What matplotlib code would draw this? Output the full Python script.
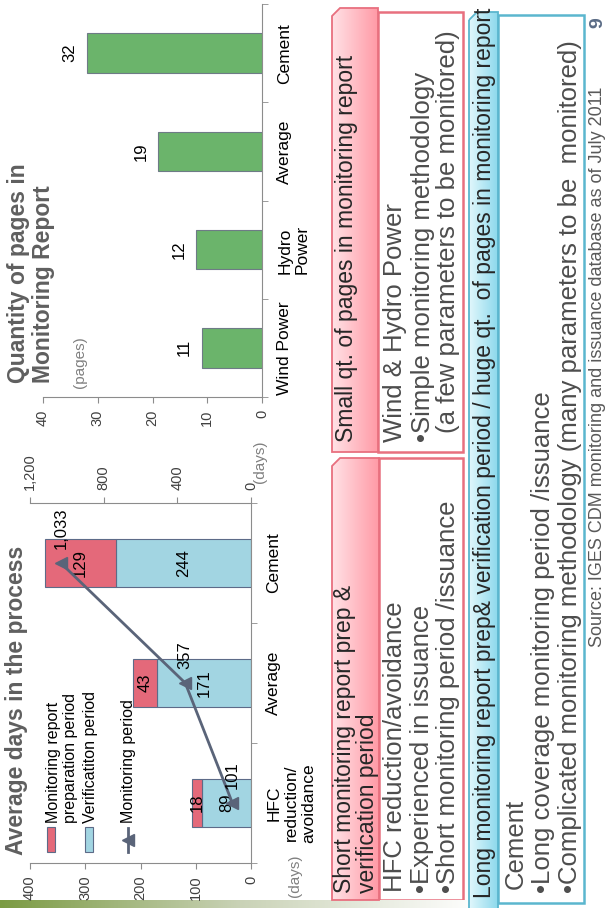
import numpy as np
import matplotlib
matplotlib.use('Agg')
import matplotlib.pyplot as plt
from matplotlib.patches import Polygon, Rectangle
from matplotlib.colors import LinearSegmentedColormap
from matplotlib.lines import Line2D

plt.rcParams['font.family'] = ['Liberation Sans', 'DejaVu Sans']

W, H = 607, 908

# average days in the process
day_cats = ['HFC\nreduction/\navoidance', 'Average', 'Cement']
verif_days = [89, 171, 244]
prep_days = [18, 43, 129]
monitor_days = [101, 357, 1033]
day_ticks = [0, 100, 200, 300, 400]
monitor_ticks = [0, 400, 800, 1200]
monitor_tick_labels = ['0', '400', '800', '1,200']

# quantity of pages in monitoring report
page_cats = ['Wind Power', 'Hydro\nPower', 'Average', 'Cement']
pages = [11, 12, 19, 32]
page_ticks = [0, 10, 20, 30, 40]

PINK = '#E4697A'
BLUE = '#A2D5E2'
GREEN = '#6BB46B'
LINE = '#5A6479'
EDGE = '#5D6B88'
AXIS = '#8C8C8C'
TITLE = '#5F5F5F'
TXT = '#404040'

fig = plt.figure(figsize=(W / 100, H / 100), dpi=100)
bg = fig.add_axes([0, 0, 1, 1])
bg.set_axis_off()


def px_axes(x0, y0, x1, y1):
    return fig.add_axes([x0 / W, 1 - y1 / H, (x1 - x0) / W, (y1 - y0) / H])


def style_axes(ax, n, ticks):
    for s in ('left', 'top'):
        ax.spines[s].set_visible(False)
    for s in ('right', 'bottom'):
        ax.spines[s].set_color(AXIS)
    ax.yaxis.tick_right()
    ax.set_ylim(-0.5, n - 0.5)
    ax.set_yticks(np.arange(n))
    ax.set_yticks(np.arange(n + 1) - 0.5, minor=True)
    ax.tick_params(axis='y', which='major', length=0, pad=11)
    ax.tick_params(axis='y', which='minor', length=4, color=AXIS)
    ax.set_xticks(ticks)
    ax.tick_params(axis='x', length=4, color=AXIS, pad=5, labelsize=10.5,
                   labelrotation=90, labelcolor=TXT)
    ax.patch.set_visible(False)


def rtext(x, y, s, size, color=TXT, weight='normal', ha='center', ls=1.2):
    bg.text(x, y, s, rotation=90, ha=ha, va='bottom', fontsize=size,
            color=color, fontweight=weight, multialignment='left',
            linespacing=ls)


# ---- chart 1: days, stacked bars + monitoring period line
ax1 = px_axes(30, 503, 251, 863)
pos1 = np.arange(len(day_cats))
b_ver = ax1.barh(pos1, verif_days, height=0.4, color=BLUE, edgecolor=EDGE, lw=0.8)
b_prep = ax1.barh(pos1, prep_days, left=verif_days, height=0.4, color=PINK,
                  edgecolor=EDGE, lw=0.8)
ax1.set_xlim(400, 0)
style_axes(ax1, len(day_cats), day_ticks)
ax1.set_yticklabels(day_cats, rotation=90, va='center', ha='left',
                    multialignment='center', fontsize=12.5, color='black')
ax1.bar_label(b_ver, label_type='center', rotation=90, fontsize=12)
ax1.bar_label(b_prep, label_type='center', rotation=90, fontsize=12)

ax1t = ax1.twiny()
ax1t.set_xlim(1200, 0)
for s in ('left', 'right', 'bottom'):
    ax1t.spines[s].set_visible(False)
ax1t.spines['top'].set_color(AXIS)
ax1t.set_xticks(monitor_ticks)
ax1t.set_xticklabels(monitor_tick_labels)
ax1t.tick_params(axis='x', length=4, color=AXIS, pad=5, labelsize=10.5,
                 labelrotation=90, labelcolor=TXT)
ax1t.plot(monitor_days, pos1, color=LINE, lw=2, marker='<', ms=8)
for v, p in zip(monitor_days, pos1):
    ax1t.annotate(f'{v:,}', (v, p), xytext=(0, 10), textcoords='offset points',
                  rotation=90, ha='center', va='bottom', fontsize=12)

rtext(17, 855, 'Average days in the process', 16.5, TITLE, 'bold')
rtext(295, 897, '(days)', 11, '#808080')
rtext(260, 483, '(days)', 11, '#808080')

# legend
bg.add_patch(Rectangle((47, 827), 8, 25, fc=PINK, ec=EDGE, lw=0.8))
bg.add_patch(Rectangle((85, 827), 8, 25, fc=BLUE, ec=EDGE, lw=0.8))
bg.add_line(Line2D([128, 128], [852, 828], color=LINE, lw=2))
bg.plot([128], [840], marker='<', ms=8, color=LINE)
rtext(62, 823, 'Monitoring report\npreparation period', 11.5, 'black', ls=1.1)
rtext(90, 823, 'Verificatiton period', 11.5, 'black')
rtext(128, 823, 'Monitoring period', 11.5, 'black')

# ---- chart 2: pages in monitoring report
ax2 = px_axes(43, 4, 262, 397)
pos2 = np.arange(len(page_cats))
b_pg = ax2.barh(pos2, pages, height=0.4, color=GREEN, edgecolor='#6E7B86', lw=0.8)
ax2.set_xlim(40, 0)
style_axes(ax2, len(page_cats), page_ticks)
ax2.set_yticklabels(page_cats, rotation=90, va='center', ha='left',
                    multialignment='left', fontsize=12.5, color='black')
ax2.bar_label(b_pg, padding=7, rotation=90, fontsize=12)

rtext(31, 383, 'Quantity of pages in\nMonitoring Report', 16.5, TITLE, 'bold', ls=1.15)
rtext(80, 388, '(pages)', 11, '#808080')


# ---- comment boxes
def header_box(x0, x1, y0, y1, c0, c1, edge, cut=8):
    poly = Polygon([(x0, y0 + cut), (x0 + cut, y0), (x1, y0), (x1, y1), (x0, y1)],
                   closed=True, fc='none', ec=edge, lw=1.3, zorder=3)
    bg.add_patch(poly)
    cmap = LinearSegmentedColormap.from_list('hdr', [c0, c1])
    im = bg.imshow(np.linspace(0, 1, 256).reshape(1, -1), cmap=cmap,
                   extent=[x0, x1, y1, y0], aspect='auto', zorder=2)
    im.set_clip_path(poly)


def body_box(x0, x1, y0, y1, edge):
    bg.add_patch(Rectangle((x0, y0), x1 - x0, y1 - y0, fc='white', ec=edge,
                           lw=1.8, zorder=1))


PK_EDGE = '#E8707F'
BL_EDGE = '#5BB6CE'

body_box(378, 463, 12, 452, PK_EDGE)
header_box(332, 378, 8, 452, '#FFE2E6', '#FF9AA6', PK_EDGE)
body_box(379, 463, 458, 900, PK_EDGE)
header_box(332, 379, 458, 900, '#FFE2E6', '#FF9AA6', PK_EDGE)
body_box(498, 584, 15, 903, BL_EDGE)
header_box(469, 498, 12, 912, '#E2F7FC', '#8CD9EC', BL_EDGE)

HDR = '#262626'
BODY = '#4D4D4D'
rtext(346, 442, 'Small qt. of pages in monitoring report', 16.5, HDR)
rtext(395, 442, 'Wind & Hydro Power', 18.5, BODY)
rtext(423, 442, '\u2022Simple monitoring methodology', 18.5, BODY)
rtext(448, 433, '(a few parameters to be monitored)', 18.5, BODY)

rtext(356, 893, 'Short monitoring report prep &\nverification period', 16.5, HDR, ls=1.05)
rtext(395, 892, 'HFC reduction/avoidance', 18.5, BODY)
rtext(422, 893, '\u2022Experienced in issuance', 18.5, BODY)
rtext(448, 893, '\u2022Short monitoring period /issuance', 18.5, BODY)

rtext(484, 898, 'Long monitoring report prep& verification period / huge qt.  of pages in monitoring report',
      16.5, HDR)
rtext(516, 889, 'Cement', 18.5, BODY)
rtext(543, 893, '\u2022Long coverage monitoring period /issuance', 18.5, BODY)
rtext(570, 893, '\u2022Complicated monitoring methodology (many parameters to be  monitored)', 18.5, BODY)

rtext(597, 647, 'Source: IGES CDM monitoring and issuance database as of July 2011', 13, '#595959')
rtext(598, 28, '9', 14, '#5B6C86', 'bold')

# green strip along the bottom edge
strip = LinearSegmentedColormap.from_list('strip', ['#7B9B43', '#C9D2B6', '#FFFFFF'])
bg.imshow(np.linspace(0, 1, 256).reshape(1, -1), cmap=strip,
          extent=[0, 480, 908, 900], aspect='auto', zorder=1)

bg.set_xlim(0, W)
bg.set_ylim(H, 0)

fig.savefig('out.png', dpi=100)
